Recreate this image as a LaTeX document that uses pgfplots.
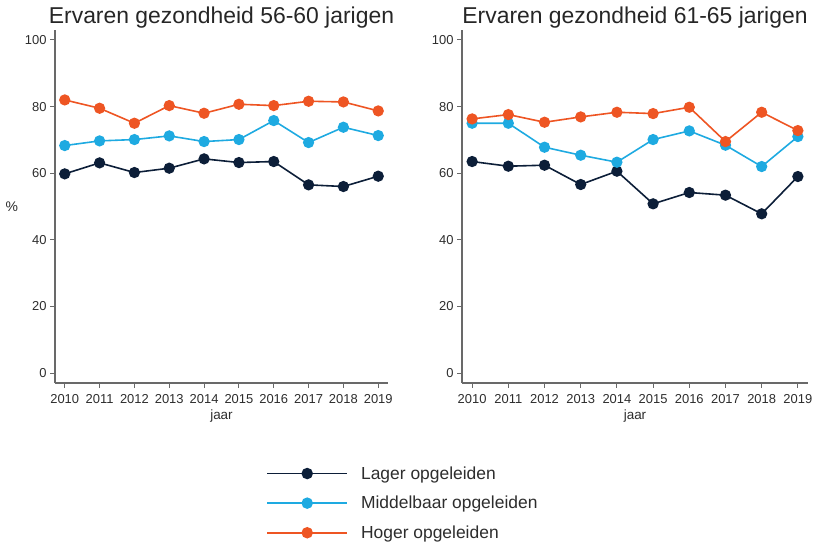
\documentclass[border=0pt]{standalone}
\usepackage{pgfplots}
\pgfplotsset{compat=1.18}
\usepackage{fontspec}
\setmainfont{Liberation Sans}
\definecolor{cdark}{RGB}{12,30,56}
\definecolor{cblue}{RGB}{30,170,225}
\definecolor{corange}{RGB}{238,85,35}
\definecolor{caxis}{RGB}{105,105,105}
\definecolor{ctext}{RGB}{45,45,45}

\pgfplotsset{
  myaxis/.style={
    scale only axis, height=353bp,
    axis x line*=bottom, axis y line*=left,
    axis line style={caxis, line width=1.3bp},
    xmin=2009.72, xmax=2019.28, ymin=-3, ymax=103,
    xtick={2010,2011,...,2019}, ytick={0,20,...,100},
    /pgf/number format/assume math mode=true,
    x tick label style={/pgf/number format/1000 sep={}, yshift=-3bp},
    tick style={caxis, line width=1bp}, major tick length=5bp, tick align=outside,
    ticklabel style={font=\fontsize{13}{15}\selectfont, text=ctext},
    every axis plot/.append style={line width=1.6bp, mark=*, mark size=4.8bp},
    title style={font=\fontsize{23}{26}\selectfont, text=black!85, at={(0.5,1)}, anchor=base, yshift=1bp},
    xlabel={jaar},
    xlabel style={font=\fontsize{13.5}{15}\selectfont, text=ctext, yshift=1bp},
    legend image code/.code={\draw[mark repeat=2,mark phase=2,line width=1.8bp,#1] plot coordinates {(0bp,0.2bp)(40bp,0.2bp)(80bp,0.2bp)};},
  }
}

\begin{document}
\begin{tikzpicture}
\path[use as bounding box] (0bp,0bp) rectangle (816bp,548bp);

\begin{axis}[myaxis, at={(55bp,165bp)}, anchor=south west, width=333bp,
  title={Ervaren gezondheid 56-60 jarigen},
  ylabel={\%}, ylabel style={font=\fontsize{14}{16}\selectfont, text=ctext, rotate=-90},
  legend style={draw=none, fill=none, at={(0.634,-0.228)}, anchor=north west,
    font=\fontsize{17.5}{20}\selectfont, text=ctext, row sep=9.5bp, inner sep=0pt,
    nodes={inner sep=3pt},
    /tikz/every odd column/.append style={column sep=10bp}},
  legend cell align=left]
\addplot[cdark, mark options={fill=cdark}] coordinates {
(2010,59.8) (2011,63.1) (2012,60.2) (2013,61.5) (2014,64.3) (2015,63.2) (2016,63.5) (2017,56.5) (2018,56.0) (2019,59.1)};
\addlegendentry{Lager opgeleiden}
\addplot[cblue, mark options={fill=cblue}] coordinates {
(2010,68.3) (2011,69.7) (2012,70.1) (2013,71.2) (2014,69.5) (2015,70.1) (2016,75.8) (2017,69.2) (2018,73.8) (2019,71.3)};
\addlegendentry{Middelbaar opgeleiden}
\addplot[corange, mark options={fill=corange}] coordinates {
(2010,82.0) (2011,79.5) (2012,75.0) (2013,80.3) (2014,78.0) (2015,80.7) (2016,80.3) (2017,81.6) (2018,81.4) (2019,78.7)};
\addlegendentry{Hoger opgeleiden}
\end{axis}

\begin{axis}[myaxis, at={(462bp,165bp)}, anchor=south west, width=346bp,
  title={Ervaren gezondheid 61-65 jarigen}]
\addplot[cdark, mark options={fill=cdark}] coordinates {
(2010,63.5) (2011,62.1) (2012,62.4) (2013,56.6) (2014,60.6) (2015,50.8) (2016,54.2) (2017,53.4) (2018,47.8) (2019,59.0)};
\addplot[cblue, mark options={fill=cblue}] coordinates {
(2010,75.0) (2011,75.0) (2012,67.8) (2013,65.4) (2014,63.3) (2015,70.1) (2016,72.7) (2017,68.4) (2018,62.0) (2019,71.0)};
\addplot[corange, mark options={fill=corange}] coordinates {
(2010,76.3) (2011,77.6) (2012,75.3) (2013,76.9) (2014,78.3) (2015,77.9) (2016,79.8) (2017,69.5) (2018,78.3) (2019,72.8)};
\end{axis}
\end{tikzpicture}
\end{document}
